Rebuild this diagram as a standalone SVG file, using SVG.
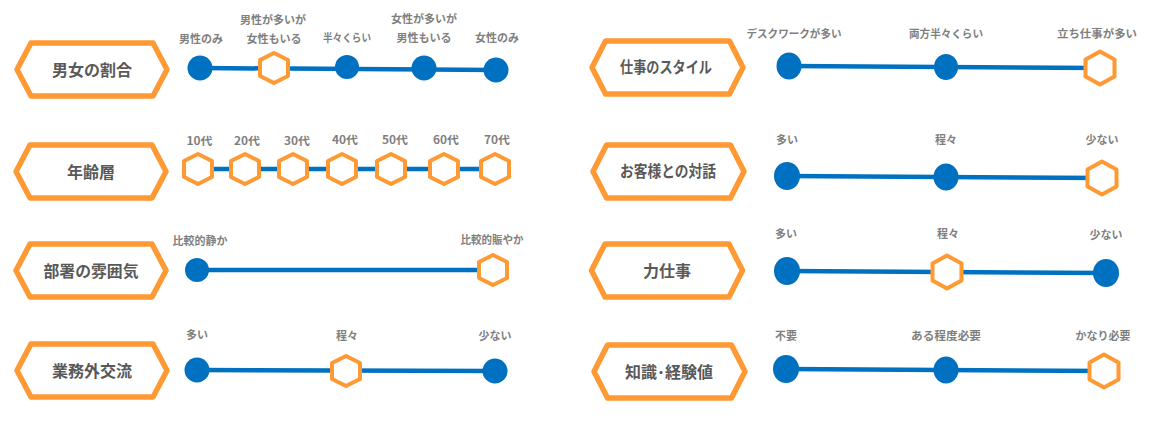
<svg xmlns="http://www.w3.org/2000/svg" width="1168" height="425" viewBox="0 0 1168 425">
<style>
text{font-family:"Noto Sans CJK JP","Noto Sans",sans-serif;font-weight:700;text-anchor:middle}
.t{font-size:16px;fill:#595959}
.l{font-size:11px;fill:#7f7f7f}
.b{fill:#fff;stroke:#ff9933;stroke-width:5.5;stroke-linejoin:round}
.h{fill:#fff;stroke:#ff9933;stroke-width:4;stroke-linejoin:round}
.c{fill:#0070c0}
.ln{stroke:#0070c0;stroke-width:4.5;fill:none}
</style>
<defs>
<polygon id="hx" class="h" points="0,-15 14,-8 14,8 0,15 -14,8 -14,-8"/>
<polygon id="hy" class="h" points="0,-16.5 14.5,-8.5 14.5,8.5 0,16.5 -14.5,8.5 -14.5,-8.5"/>
<polygon id="bl" class="b" points="-75,0 -61,-26.5 61,-26.5 75,0 61,26.5 -61,26.5"/>
<polygon id="br" class="b" points="-75.5,0 -62,-26.5 62,-26.5 75.5,0 62,26.5 -62,26.5"/>
</defs>
<g id="connectors">
<path class="ln" d="M200 68L496 70"/>
<path class="ln" d="M198 169H495"/>
<path class="ln" d="M197 270H493"/>
<path class="ln" d="M197 370L495 371"/>
<path class="ln" d="M789 66L1100 68"/>
<path class="ln" d="M787 176L1102 178"/>
<path class="ln" d="M787 271L1106 273"/>
<path class="ln" d="M786 369L1104 371"/>
</g>
<g id="box-1"><use href="#bl" x="92" y="69.5"/><text class="t" x="92" y="76">男女の割合</text></g>
<g id="box-2"><use href="#bl" x="91" y="171.5"/><text class="t" x="91" y="178">年齢層</text></g>
<g id="box-3"><use href="#bl" x="91" y="270.5"/><text class="t" x="91" y="277" textLength="95" lengthAdjust="spacingAndGlyphs">部署の雰囲気</text></g>
<g id="box-4"><use href="#bl" x="92" y="370.5"/><text class="t" x="92" y="377">業務外交流</text></g>
<g id="box-5"><use href="#br" x="667.5" y="67.5"/><text class="t" x="666" y="73" textLength="92" lengthAdjust="spacingAndGlyphs">仕事のスタイル</text></g>
<g id="box-6"><use href="#br" x="668.5" y="171.5"/><text class="t" x="668" y="177" textLength="96" lengthAdjust="spacingAndGlyphs">お客様との対話</text></g>
<g id="box-7"><use href="#br" x="667" y="270.5"/><text class="t" x="667" y="277">力仕事</text></g>
<g id="box-8"><use href="#br" x="669.5" y="371.5"/><text class="t" x="669" y="378" textLength="88" lengthAdjust="spacingAndGlyphs">知識･経験値</text></g>
<g id="r1">
<g id="r1-a"><circle class="c" cx="200" cy="68" r="12.5"/><text class="l" x="201" y="43">男性のみ</text></g>
<g id="r1-b"><use href="#hx" x="274" y="68"/><text class="l" x="273" y="24">男性が多いが</text><text class="l" x="274" y="43">女性もいる</text></g>
<g id="r1-c"><circle class="c" cx="347" cy="67" r="12"/><text class="l" x="347" y="42" textLength="48" lengthAdjust="spacingAndGlyphs">半々くらい</text></g>
<g id="r1-d"><circle class="c" cx="424" cy="68" r="12.5"/><text class="l" x="424" y="23">女性が多いが</text><text class="l" x="424" y="42">男性もいる</text></g>
<g id="r1-e"><circle class="c" cx="496" cy="70" r="12.5"/><text class="l" x="497" y="42">女性のみ</text></g>
</g>
<g id="r2">
<g id="r2-a"><use href="#hx" x="198" y="169"/><text class="l" x="199.5" y="145" textLength="26" lengthAdjust="spacingAndGlyphs">10代</text></g>
<g id="r2-b"><use href="#hx" x="245" y="169"/><text class="l" x="247" y="145" textLength="26" lengthAdjust="spacingAndGlyphs">20代</text></g>
<g id="r2-c"><use href="#hx" x="293" y="169"/><text class="l" x="297" y="145" textLength="26" lengthAdjust="spacingAndGlyphs">30代</text></g>
<g id="r2-d"><use href="#hx" x="342" y="169"/><text class="l" x="345" y="144" textLength="26" lengthAdjust="spacingAndGlyphs">40代</text></g>
<g id="r2-e"><use href="#hx" x="391" y="169"/><text class="l" x="395" y="144" textLength="26" lengthAdjust="spacingAndGlyphs">50代</text></g>
<g id="r2-f"><use href="#hx" x="444" y="169"/><text class="l" x="446" y="144" textLength="26" lengthAdjust="spacingAndGlyphs">60代</text></g>
<g id="r2-g"><use href="#hx" x="495" y="169"/><text class="l" x="497" y="144" textLength="26" lengthAdjust="spacingAndGlyphs">70代</text></g>
</g>
<g id="r3">
<g id="r3-a"><circle class="c" cx="197" cy="270" r="12"/><text class="l" x="200" y="245">比較的静か</text></g>
<g id="r3-b"><use href="#hx" x="493" y="270"/><text class="l" x="492" y="244" textLength="63" lengthAdjust="spacingAndGlyphs">比較的賑やか</text></g>
</g>
<g id="r4">
<g id="r4-a"><circle class="c" cx="197" cy="370" r="12.5"/><text class="l" x="197" y="339">多い</text></g>
<g id="r4-b"><use href="#hx" x="346" y="371"/><text class="l" x="347" y="340">程々</text></g>
<g id="r4-c"><circle class="c" cx="495" cy="371" r="12.5"/><text class="l" x="495" y="340">少ない</text></g>
</g>
<g id="r5">
<g id="r5-a"><ellipse class="c" cx="789" cy="66" rx="12.5" ry="13.5"/><text class="l" x="794" y="38" textLength="95" lengthAdjust="spacingAndGlyphs">デスクワークが多い</text></g>
<g id="r5-b"><ellipse class="c" cx="946" cy="67" rx="12" ry="13"/><text class="l" x="946" y="38" textLength="74" lengthAdjust="spacingAndGlyphs">両方半々くらい</text></g>
<g id="r5-c"><use href="#hy" x="1100" y="68"/><text class="l" x="1097" y="38" textLength="80" lengthAdjust="spacingAndGlyphs">立ち仕事が多い</text></g>
</g>
<g id="r6">
<g id="r6-a"><ellipse class="c" cx="787" cy="176" rx="13" ry="14"/><text class="l" x="787" y="144">多い</text></g>
<g id="r6-b"><ellipse class="c" cx="946" cy="177" rx="12.5" ry="13.5"/><text class="l" x="946" y="144">程々</text></g>
<g id="r6-c"><use href="#hy" x="1102" y="178"/><text class="l" x="1102" y="144">少ない</text></g>
</g>
<g id="r7">
<g id="r7-a"><ellipse class="c" cx="787" cy="271" rx="13" ry="14"/><text class="l" x="786" y="238">多い</text></g>
<g id="r7-b"><use href="#hy" x="947" y="272"/><text class="l" x="948" y="238">程々</text></g>
<g id="r7-c"><ellipse class="c" cx="1106" cy="273" rx="13" ry="14"/><text class="l" x="1106" y="239">少ない</text></g>
</g>
<g id="r8">
<g id="r8-a"><ellipse class="c" cx="786" cy="369" rx="13" ry="14"/><text class="l" x="786" y="340">不要</text></g>
<g id="r8-b"><ellipse class="c" cx="946" cy="370" rx="12.5" ry="13.5"/><text class="l" x="946" y="340" textLength="70" lengthAdjust="spacingAndGlyphs">ある程度必要</text></g>
<g id="r8-c"><use href="#hy" x="1104" y="371"/><text class="l" x="1103" y="340">かなり必要</text></g>
</g>
</svg>
